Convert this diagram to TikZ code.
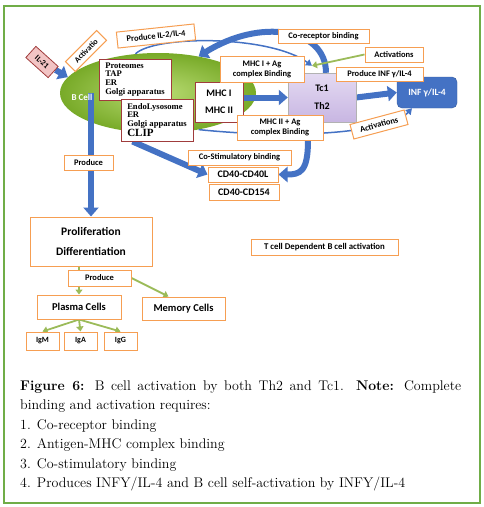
\documentclass[tikz,border=0pt]{standalone}
\usepackage{fontspec}
\setsansfont{Carlito}
\newfontfamily\orgfont{Liberation Serif}
\usetikzlibrary{arrows.meta,calc,shapes.geometric}

\definecolor{boxorange}{RGB}{246,158,82}
\definecolor{arrowblue}{RGB}{68,114,196}
\definecolor{leafgreen}{RGB}{155,187,89}
\definecolor{framegreen}{RGB}{112,173,71}
\definecolor{orgred}{RGB}{160,60,60}
\definecolor{pinkfill}{RGB}{242,196,196}

\pgfdeclarelayer{bg}
\pgfdeclarelayer{mid}
\pgfsetlayers{bg,mid,main}

\tikzset{
	lbl/.style={draw=boxorange, line width=1pt, fill=white, inner sep=1pt, align=center, font=\sffamily\bfseries\fontsize{8.5}{10}\selectfont},
	orgbox/.style={draw=orgred, line width=1pt, fill=white, align=left, inner sep=1pt, font=\orgfont\bfseries\fontsize{8.6}{8.8}\selectfont},
	bigarrow/.style={arrowblue, line width=6pt, -{Triangle[width=15pt,length=9pt]}},
	thinarrow/.style={arrowblue, line width=1.5pt, -{Triangle[width=7pt,length=6pt]}},
	greenarrow/.style={leafgreen, line width=1.8pt, -{Triangle[width=7pt,length=5pt]}},
}

\begin{document}
\begin{tikzpicture}[x=1pt, y=-1pt]
	\useasboundingbox (0,0) rectangle (484,507);
	\draw[framegreen, line width=1.2pt] (4,6) rectangle (480,503);
	
	\begin{pgfonlayer}{bg}
		\node[ellipse, minimum width=196pt, minimum height=80pt, inner color={rgb,255:red,185;green,220;blue,115}, outer color={rgb,255:red,120;green,170;blue,40}] (bcell) at (158,93) {};
	\end{pgfonlayer}
	\node[text=white, font=\sffamily\bfseries\fontsize{9}{10}\selectfont] (bcelltxt) at (82,97) {B Cell};
	
	\node[draw=orgred, fill=pinkfill, line width=.8pt, minimum width=30pt, minimum height=15pt, rotate=-42, font=\sffamily\bfseries\fontsize{8}{9}\selectfont] (il21) at (42,62) {IL-21};
	\node[lbl, minimum width=44pt, minimum height=14pt, rotate=45, font=\sffamily\bfseries\fontsize{8}{9}\selectfont] (act1) at (86,51) {Activatio};
	\node[lbl, minimum width=78pt, minimum height=16pt, rotate=6] (prodil) at (156,36) {Produce IL-2/IL-4};
	
	\node[orgbox, minimum width=72pt, minimum height=41pt] (prot) at (135,79.5) {Proteomes\\TAP\\ER\\Golgi apparatus};
	\node[orgbox, minimum width=72pt, minimum height=42pt] (endo) at (157,120) {EndoLysosome\\ER\\Golgi apparatus\\{\fontsize{11}{11}\selectfont CLIP}};
	\node[draw=orgred, fill=white, line width=.8pt, minimum width=48pt, minimum height=40pt, align=center, font=\sffamily\bfseries\fontsize{10}{11}\selectfont] (mhc) at (219,102) {MHC I\\[6pt]MHC II};
	
	\node[draw=gray!60, top color={rgb,255:red,228;green,218;blue,242}, bottom color={rgb,255:red,200;green,182;blue,226}, minimum width=68pt, minimum height=49pt, align=center, font=\sffamily\bfseries\fontsize{10}{11}\selectfont] (tc) at (322,97.5) {Tc1\\[7pt]Th2};
	\node[fill=arrowblue, draw=arrowblue!80!black, rounded corners=5pt, text=white, minimum width=60pt, minimum height=31pt, font=\sffamily\bfseries\fontsize{9.5}{11}\selectfont] (inf) at (427,92.5) {INF γ/IL-4};
	
	\node[lbl, minimum width=91pt, minimum height=14pt] (corec) at (323.5,36.5) {Co-receptor binding};
	\node[lbl, minimum width=58pt, minimum height=15pt] (act2) at (394,54.5) {Activations};
	\node[lbl, minimum width=84pt, minimum height=26pt] (mhcag) at (262,69) {MHC I + Ag\\complex Binding};
	\node[lbl, minimum width=87pt, minimum height=14pt] (prodinf) at (379.5,74) {Produce INF γ/IL-4};
	\node[lbl, minimum width=86pt, minimum height=25pt] (mhctwoag) at (280,127.5) {MHC II + Ag\\complex Binding};
	\node[lbl, minimum width=56pt, minimum height=15pt, rotate=15] (act3) at (379,124.5) {Activations};
	
	\node[lbl, minimum width=103pt, minimum height=15pt] (costim) at (239.5,157.5) {Co-Stimulatory binding};
	\node[lbl, minimum width=70pt, minimum height=15pt, font=\sffamily\bfseries\fontsize{10}{11}\selectfont] (cdl) at (243,174.5) {CD40-CD40L};
	\node[lbl, minimum width=70pt, minimum height=16pt, font=\sffamily\bfseries\fontsize{10}{11}\selectfont] (cdf) at (244,192) {CD40-CD154};
	\node[lbl, minimum width=147pt, minimum height=16pt, font=\sffamily\bfseries\fontsize{8.8}{10}\selectfont] (tdep) at (324.5,247) {T cell Dependent B cell activation};
	
	\node[lbl, minimum width=49pt, minimum height=15pt] (prodone) at (88.5,162.5) {Produce};
	\node[lbl, minimum width=122pt, minimum height=49pt, font=\sffamily\bfseries\fontsize{11.5}{13}\selectfont] (prolif) at (91,241.5) {Proliferation\\[7pt]Differentiation};
	\node[lbl, minimum width=63pt, minimum height=16pt] (prodtwo) at (99.5,278) {Produce};
	\node[lbl, minimum width=84pt, minimum height=24pt, font=\sffamily\bfseries\fontsize{10.5}{12}\selectfont] (plasma) at (79,307) {Plasma Cells};
	\node[lbl, minimum width=83pt, minimum height=23pt, font=\sffamily\bfseries\fontsize{10.5}{12}\selectfont] (memory) at (183.5,308.5) {Memory Cells};
	\node[lbl, minimum width=33pt, minimum height=18pt, font=\sffamily\bfseries\fontsize{8}{9}\selectfont] (igm) at (42.5,341) {IgM};
	\node[lbl, minimum width=33pt, minimum height=18pt, font=\sffamily\bfseries\fontsize{8}{9}\selectfont] (iga) at (80.5,341) {IgA};
	\node[lbl, minimum width=33pt, minimum height=18pt, font=\sffamily\bfseries\fontsize{8}{9}\selectfont] (igg) at (120.5,341) {IgG};
	
	\coordinate (tctop) at ($(tc.north)+(-10,-7)$);
	
	\begin{pgfonlayer}{mid}
		\draw[bigarrow] (il21) -- (bcell.170);
		\draw[bigarrow] ($(tc.north)+(4,0)$) .. controls (326,28) and (260,18) .. (bcell.42);
		\draw[thinarrow] (bcell.120) .. controls (155,35) and (270,35) .. (tctop);
		\draw[greenarrow] (act2.west) -- (tctop);
		\draw[bigarrow] (tc.west -| mhc.east) -- (tc.west);
		\draw[bigarrow] (tc.east) -- (inf.west);
		\draw[thinarrow] (bcell.-42) .. controls (300,140) and (390,132) .. ($(inf.south)+(-15,0)$);
		\draw[bigarrow] ($(mhctwoag.south)+(28,0)$) .. controls (308,172) and (300,174.5) .. (cdl.east);
		\draw[bigarrow] ($(endo.south west)+(12,0)$) -- (cdl.west);
		\draw[bigarrow] (prolif.north |- bcell.center) -- (prolif.north);
		\draw[greenarrow] (plasma.north |- prolif.south) -- (plasma.north);
		\draw[greenarrow] (prodtwo.east) -- ($(memory.north)+(-15,0)$);
		\foreach \ig in {igm,iga,igg}
			\draw[greenarrow] (plasma.south) -- (\ig.north);
	\end{pgfonlayer}
	
	\node[anchor=north west, inner sep=0pt, align=left, font=\fontsize{14}{19.5}\selectfont] (caption) at (20,380) {\hbox to 441pt{\textbf{Figure 6:} B cell activation by both Th2 and Tc1. \textbf{Note:} Complete}\\binding and activation requires:\\1. Co-receptor binding\\2. Antigen-MHC complex binding\\3. Co-stimulatory binding\\4. Produces INFY/IL-4 and B cell self-activation by INFY/IL-4};
\end{tikzpicture}
\end{document}
